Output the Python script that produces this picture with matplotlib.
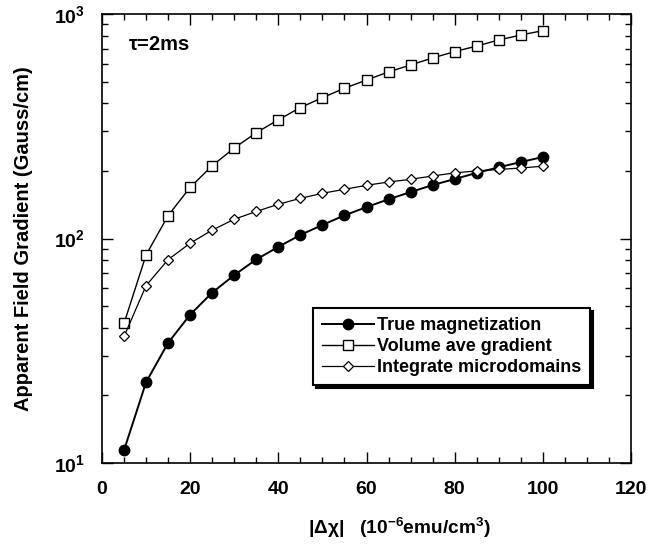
import matplotlib
matplotlib.use("Agg")
import matplotlib.pyplot as plt
from matplotlib.ticker import MultipleLocator, LogLocator

plt.rcParams['font.family'] = ['Liberation Sans', 'DejaVu Sans']
plt.rcParams['font.weight'] = 'bold'
plt.rcParams['mathtext.fontset'] = 'custom'
plt.rcParams['mathtext.rm'] = 'Liberation Sans:bold'
plt.rcParams['mathtext.bf'] = 'Liberation Sans:bold'
plt.rcParams['mathtext.it'] = 'Liberation Sans:bold'
plt.rcParams['mathtext.default'] = 'bf'

dchi = [5, 10, 15, 20, 25, 30, 35, 40, 45, 50, 55, 60, 65, 70, 75, 80, 85, 90, 95, 100]
true_mag = [11.4, 22.9, 34.3, 45.8, 57.4, 68.7, 80.7, 91.8, 103.7, 114.9,
            126.8, 138, 149.5, 161, 173, 184, 196, 207.6, 219, 230.7]
vol_ave = [41.9, 84.5, 126.5, 169, 211, 253, 296, 338, 383, 424,
           467, 508, 552, 593, 637, 680, 720, 766, 806, 843]
micro = [36.6, 61.7, 80.5, 95.3, 109, 121.8, 132, 142, 151, 159,
         165.6, 172.6, 178.5, 183.5, 189.9, 196, 200, 203, 206, 210]

labels = ['True magnetization', 'Volume ave gradient', 'Integrate microdomains']

fig = plt.figure(figsize=(6.72, 5.48), dpi=100)
ax = fig.add_axes([102/672, 1-463/548, (631-102)/672, (463-14)/548])

ax.plot(dchi, true_mag, '-', color='black', lw=1.4, marker='o', ms=7.5,
        mfc='black', mec='black', label=labels[0])
ax.plot(dchi, vol_ave, '-', color='black', lw=1.0, marker='s', ms=7.5,
        mfc='white', mec='black', mew=1.0, label=labels[1])
ax.plot(dchi, micro, '-', color='black', lw=0.9, marker='D', ms=5,
        mfc='white', mec='black', mew=0.9, label=labels[2])

ax.set_yscale('log')
ax.set_xlim(0, 120)
ax.set_ylim(10, 1000)
ax.xaxis.set_major_locator(MultipleLocator(20))
ax.xaxis.set_minor_locator(MultipleLocator(5))
ax.yaxis.set_minor_locator(LogLocator(base=10, subs=range(2, 10)))
ax.set_yticks([10, 100, 1000])
ax.set_yticklabels([r'$10^1$', r'$10^2$', r'$10^3$'])
ax.tick_params(which='both', direction='in', top=True, right=True, width=1.0)
ax.tick_params(which='major', length=8, labelsize=14)
ax.tick_params(axis='x', which='major', pad=13)
ax.tick_params(axis='y', which='major', pad=12)
ax.tick_params(which='minor', length=4.5)
for lbl in ax.get_xticklabels() + ax.get_yticklabels():
    lbl.set_fontweight('bold')
for s in ax.spines.values():
    s.set_linewidth(1.2)

ax.set_xlabel(r'|$\Delta\chi$|   (10$^{-6}$emu/cm$^3$)', fontsize=13.8, fontweight='bold')
ax.xaxis.set_label_coords((399-102)/529, -(516-463)/449)
ax.set_ylabel('Apparent Field Gradient (Gauss/cm)', fontsize=14.5, fontweight='bold')
ax.yaxis.set_label_coords(-(102-33)/529, 0.5)

ax.text(0.05, 0.933, 'τ=2ms', transform=ax.transAxes, fontsize=14.5, fontweight='bold',
        ha='left', va='center')

leg = ax.legend(loc='upper left', bbox_to_anchor=((313-102)/529, 1-(308-14)/449),
                borderaxespad=0, frameon=True,
                fancybox=False, shadow={'color': 'black', 'alpha': 1.0},
                edgecolor='black', handlelength=2.9, handletextpad=0.15,
                borderpad=0.5, labelspacing=0.22, prop={'weight': 'bold', 'size': 13})
leg.get_frame().set_linewidth(1.5)

fig.savefig('out.png', dpi=100)
